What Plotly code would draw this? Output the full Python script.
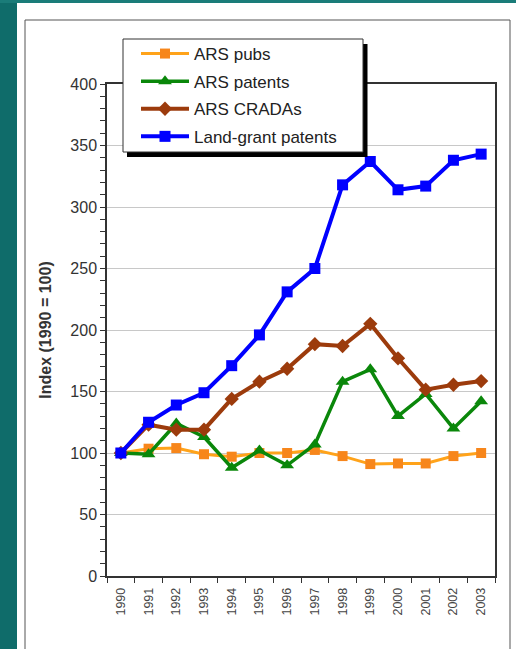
import plotly.graph_objects as go

# Index values, 1990 = 100
years = [str(y) for y in range(1990, 2004)]
ars_pubs = [100, 103.5, 104, 99, 97, 100, 100, 102.5, 97.5, 91, 91.5, 91.5, 97.5, 100]
ars_patents = [100, 99, 124, 113, 88, 102, 90, 107, 158, 168, 130, 148, 120, 142]
ars_cradas = [100, 123, 119, 119, 144, 158, 168.5, 188.5, 187, 205, 177, 151.5, 155.5, 158.5]
land_grant = [100, 125, 139, 149, 171, 196, 231, 250, 318, 337, 314, 317, 338, 343]

W, H = 516, 649
L, R, T, B = 107, 21, 84, 73
PW, PH = W - L - R, H - T - B


def px(x):
    return (x - L) / PW


def py(y):
    return (H - B - y) / PH


fig = go.Figure()

series = [
    ("ARS pubs", ars_pubs, "#ffa31a", 3, "square", 10, "#f7861b"),
    ("ARS patents", ars_patents, "#0a870a", 3.5, "triangle-up", 12, "#0a870a"),
    ("ARS CRADAs", ars_cradas, "#9c3b0c", 4, "diamond", 11, "#9c3b0c"),
    ("Land-grant patents", land_grant, "#0000ff", 4, "square", 11, "#0000ff"),
]
for name, vals, col, lw, sym, ms, mcol in series:
    fig.add_trace(go.Scatter(
        x=years, y=vals, name=name, mode="lines+markers",
        line=dict(color=col, width=lw),
        marker=dict(symbol=sym, size=ms, color=mcol),
        legendgroup=name,
    ))

shapes = [
    # teal slide background strips
    dict(type="rect", xref="paper", yref="paper", x0=px(0), x1=px(17), y0=py(0), y1=py(H),
         fillcolor="#0f6c6a", line=dict(width=0), layer="below"),
    dict(type="rect", xref="paper", yref="paper", x0=px(0), x1=px(W), y0=py(0), y1=py(3),
         fillcolor="#1a7c79", line=dict(width=0), layer="below"),
    # outer frame
    dict(type="rect", xref="paper", yref="paper", x0=px(25), x1=px(510), y0=py(20), y1=py(H + 10),
         fillcolor="rgba(0,0,0,0)", line=dict(color="#555555", width=1), layer="below"),
    # legend shadow and box
    dict(type="rect", xref="paper", yref="paper", x0=px(127), x1=px(367.5), y0=py(44), y1=py(157),
         fillcolor="#000000", line=dict(width=0), layer="above"),
    dict(type="rect", xref="paper", yref="paper", x0=px(123), x1=px(363), y0=py(39), y1=py(152),
         fillcolor="#ffffff", line=dict(color="#333333", width=1), layer="above"),
]

fig.update_layout(
    width=W, height=H,
    margin=dict(l=L, r=R, t=T, b=B),
    paper_bgcolor="#ffffff", plot_bgcolor="#ffffff",
    font=dict(family="Liberation Sans, Arial, sans-serif", color="#333333"),
    shapes=shapes,
    showlegend=True,
    legend=dict(
        x=px(136), y=py(36), xanchor="left", yanchor="top",
        bgcolor="rgba(0,0,0,0)", borderwidth=0,
        font=dict(size=17, color="#222222"),
        tracegroupgap=2.5, traceorder="grouped",
        itemwidth=48,
    ),
    xaxis=dict(
        type="category", categoryorder="array", categoryarray=years,
        range=[-0.5, len(years) - 0.5], autorange=False,
        tickson="boundaries", ticks="outside", ticklen=5, tickcolor="#333333",
        tickangle=-90, tickfont=dict(size=12.5, color="#444444"), ticklabelstandoff=5,
        showline=True, linecolor="#333333", linewidth=1.5, mirror=True,
        showgrid=False, zeroline=False,
    ),
    yaxis=dict(
        range=[0, 400], dtick=50, ticks="outside", ticklen=5, tickcolor="#333333",
        tickfont=dict(size=16, color="#333333"),
        showline=True, linecolor="#333333", linewidth=1.5, mirror=True,
        showgrid=True, gridcolor="#c8c8c8", gridwidth=1, zeroline=False,
        minor=dict(dtick=10, ticks="outside", ticklen=5, tickcolor="#333333", showgrid=False),
        title=dict(text="<b>Index (1990 = 100)</b>", font=dict(size=16, color="#333333"), standoff=15),
    ),
)

fig.write_html("out.html")
